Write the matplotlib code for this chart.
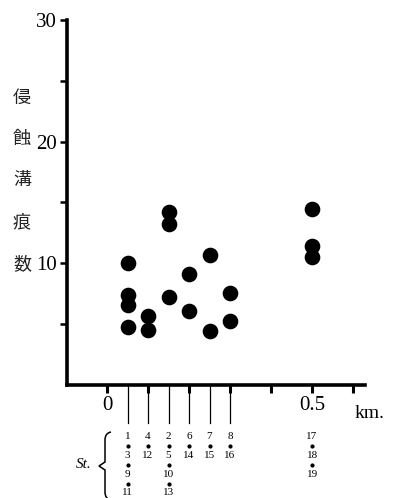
import matplotlib
matplotlib.use("Agg")
import matplotlib.pyplot as plt
from matplotlib.path import Path
from matplotlib.patches import PathPatch
from matplotlib.transforms import blended_transform_factory

# distance (km) and erosion-groove count
dist_km = [0.05, 0.05, 0.05, 0.05,
           0.10, 0.10,
           0.15, 0.15, 0.15,
           0.20, 0.20,
           0.25, 0.25,
           0.30, 0.30,
           0.50, 0.50, 0.50]
groove_count = [10.0, 7.4, 6.6, 4.8,
                5.7, 4.5,
                14.2, 13.2, 7.2,
                9.1, 6.1,
                10.7, 4.4,
                7.6, 5.3,
                14.5, 11.4, 10.5]

# station numbers under each position
station_pos = [0.05, 0.10, 0.15, 0.20, 0.25, 0.30, 0.50]
station_labels = [["1", "3", "9", "11"], ["4", "12"], ["2", "5", "10", "13"],
                  ["6", "14"], ["7", "15"], ["8", "16"], ["17", "18", "19"]]

ylabel_chars = ["侵", "蝕", "溝", "痕", "数"]

W, H = 393, 498
fig = plt.figure(figsize=(W / 100, H / 100), dpi=100)


def fy(py):
    return 1 - py / H


def fx(px):
    return px / W


ax = fig.add_axes([fx(67), fy(385), fx(365) - fx(67), fy(20) - fy(385)])
ax.set_xlim(-0.0976, 0.629)
ax.set_ylim(0, 30)

ax.scatter(dist_km, groove_count, s=105, c="black", zorder=5, clip_on=False)

for s in ["top", "right"]:
    ax.spines[s].set_visible(False)
for s in ["left", "bottom"]:
    ax.spines[s].set_linewidth(2.6)

serif = "Liberation Serif"
ax.set_yticks([10, 20, 30])
ax.set_yticks([5, 15, 25], minor=True)
ax.set_yticklabels(["10", "20", "30"], fontfamily=serif, fontsize=15)
ax.tick_params(axis="y", which="both", direction="out", length=5, width=1.8, pad=2)

ax.set_xticks([0, 0.1, 0.2, 0.3, 0.4, 0.5, 0.6])
ax.set_xticklabels(["0", "", "", "", "", "0.5", ""], fontfamily=serif, fontsize=15)
ax.tick_params(axis="x", which="major", direction="out", length=6, width=2.2, pad=2)

# long thin station lines below the axis
trans = blended_transform_factory(ax.transData, fig.transFigure)
for x in station_pos[:-1]:
    ax.plot([x, x], [fy(386), fy(423)], color="black", lw=0.9,
            transform=trans, clip_on=False)

fig.text(fx(355), fy(413), "km.", fontfamily=serif, fontsize=14,
         ha="left", va="center")

# station numbers with dots between them
row_y = [436, 455, 474, 492]
dot_y = [446, 465, 484]
for x, labels in zip(station_pos, station_labels):
    for k, lab in enumerate(labels):
        fig.text(x, fy(row_y[k]), lab, transform=trans, fontfamily=serif,
                 fontsize=8, ha="center", va="center")
        if k < len(labels) - 1:
            ax.plot([x], [fy(dot_y[k])], "o", ms=2.0, color="black",
                    transform=trans, clip_on=False)

fig.text(fx(84), fy(465), "St.", fontfamily=serif, fontstyle="italic",
         fontsize=11, ha="center", va="center")

# curly brace in figure pixels
bx = [111, 105, 105, 105, 105, 99, 105, 105, 105, 105, 111]
by = [432, 433, 440, 440, 462, 466, 470, 492, 492, 499, 500]
verts = [(fx(a), fy(b)) for a, b in zip(bx, by)]
codes = [Path.MOVETO, Path.CURVE3, Path.CURVE3, Path.LINETO,
         Path.LINETO, Path.LINETO, Path.LINETO, Path.LINETO,
         Path.LINETO, Path.CURVE3, Path.CURVE3]
fig.patches.append(PathPatch(Path(verts, codes), transform=fig.transFigure,
                             fill=False, lw=1.1, color="black"))

ylab_y = [98, 139, 180, 222, 264]
for ch, py in zip(ylabel_chars, ylab_y):
    fig.text(fx(22), fy(py), ch, fontfamily="Noto Sans CJK JP", fontsize=13,
             ha="center", va="center", color="#222222")

fig.savefig("out.png", dpi=100)
